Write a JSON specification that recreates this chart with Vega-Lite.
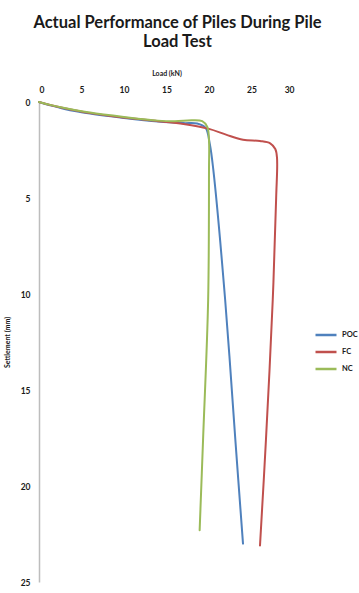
{
  "$schema": "https://vega.github.io/schema/vega-lite/v6.json",
  "autosize": {"type": "none"},
  "width": 255,
  "height": 480,
  "padding": {"left": 39, "top": 102, "right": 65, "bottom": 11},
  "background": "white",
  "title": {
    "text": ["Actual Performance of Piles During Pile", "Load Test"],
    "font": "Lato",
    "fontSize": 16.5,
    "fontWeight": "bold",
    "color": "#1a1a1a",
    "anchor": "middle",
    "dx": 11,
    "lineHeight": 19,
    "offset": 19
  },
  "config": {"view": {"stroke": null}},
  "data": {
    "values": [
      {"s": "POC", "i": 0, "load": 0, "set": 0},
      {"s": "POC", "i": 1, "load": 1.3, "set": 0.17},
      {"s": "POC", "i": 2, "load": 3, "set": 0.36},
      {"s": "POC", "i": 3, "load": 6, "set": 0.6},
      {"s": "POC", "i": 4, "load": 10, "set": 0.83},
      {"s": "POC", "i": 5, "load": 14, "set": 1.02},
      {"s": "POC", "i": 6, "load": 17, "set": 1.1},
      {"s": "POC", "i": 7, "load": 18.6, "set": 1.12},
      {"s": "POC", "i": 8, "load": 19.6, "set": 1.35},
      {"s": "POC", "i": 9, "load": 20.1, "set": 2.2},
      {"s": "POC", "i": 10, "load": 20.5, "set": 3.5},
      {"s": "POC", "i": 11, "load": 21.9, "set": 10.3},
      {"s": "POC", "i": 12, "load": 23.1, "set": 17.6},
      {"s": "POC", "i": 13, "load": 24.0, "set": 23.0},
      {"s": "FC", "i": 0, "load": 0, "set": 0},
      {"s": "FC", "i": 1, "load": 1.3, "set": 0.16},
      {"s": "FC", "i": 2, "load": 3, "set": 0.33},
      {"s": "FC", "i": 3, "load": 6, "set": 0.58},
      {"s": "FC", "i": 4, "load": 10, "set": 0.81},
      {"s": "FC", "i": 5, "load": 14, "set": 1.0},
      {"s": "FC", "i": 6, "load": 17, "set": 1.15},
      {"s": "FC", "i": 7, "load": 20, "set": 1.4},
      {"s": "FC", "i": 8, "load": 22, "set": 1.7},
      {"s": "FC", "i": 9, "load": 24, "set": 1.97},
      {"s": "FC", "i": 10, "load": 26, "set": 2.03},
      {"s": "FC", "i": 11, "load": 27.2, "set": 2.15},
      {"s": "FC", "i": 12, "load": 27.8, "set": 2.45},
      {"s": "FC", "i": 13, "load": 28.0, "set": 2.9},
      {"s": "FC", "i": 14, "load": 27.9, "set": 5},
      {"s": "FC", "i": 15, "load": 27.5, "set": 10.3},
      {"s": "FC", "i": 16, "load": 26.7, "set": 17.6},
      {"s": "FC", "i": 17, "load": 26.0, "set": 23.1},
      {"s": "NC", "i": 0, "load": 0, "set": 0},
      {"s": "NC", "i": 1, "load": 1.3, "set": 0.15},
      {"s": "NC", "i": 2, "load": 3, "set": 0.31},
      {"s": "NC", "i": 3, "load": 6, "set": 0.55},
      {"s": "NC", "i": 4, "load": 10, "set": 0.78},
      {"s": "NC", "i": 5, "load": 14, "set": 0.97},
      {"s": "NC", "i": 6, "load": 16, "set": 1.0},
      {"s": "NC", "i": 7, "load": 18, "set": 0.95},
      {"s": "NC", "i": 8, "load": 19.2, "set": 1.0},
      {"s": "NC", "i": 9, "load": 19.8, "set": 1.3},
      {"s": "NC", "i": 10, "load": 20.0, "set": 2.0},
      {"s": "NC", "i": 11, "load": 20.0, "set": 3.5},
      {"s": "NC", "i": 12, "load": 19.9, "set": 10.3},
      {"s": "NC", "i": 13, "load": 19.3, "set": 17.6},
      {"s": "NC", "i": 14, "load": 18.9, "set": 22.3}
    ]
  },
  "mark": {"type": "line", "interpolate": "catmull-rom", "strokeWidth": 2, "strokeCap": "round"},
  "encoding": {
    "x": {
      "field": "load",
      "type": "quantitative",
      "scale": {"domain": [0, 30], "nice": false},
      "axis": {
        "orient": "top",
        "title": "Load (kN)",
        "values": [0, 5, 10, 15, 20, 25, 30],
        "domain": false,
        "ticks": false,
        "grid": false,
        "labelFont": "Lato",
        "labelFontSize": 8.5,
        "labelFontWeight": "bold",
        "labelColor": "#1a1a1a",
        "labelPadding": 8,
        "titleFont": "Lato",
        "titleFontSize": 7,
        "titleFontWeight": "bold",
        "titleColor": "#1a1a1a",
        "titlePadding": 9
      }
    },
    "y": {
      "field": "set",
      "type": "quantitative",
      "scale": {"domain": [0, 25], "reverse": true, "nice": false},
      "axis": {
        "title": "Settlement (mm)",
        "values": [0, 5, 10, 15, 20, 25],
        "domain": true,
        "domainColor": "#bdbdbd",
        "domainWidth": 1.5,
        "ticks": false,
        "grid": false,
        "labelFont": "Lato",
        "labelFontSize": 8.5,
        "labelFontWeight": "bold",
        "labelColor": "#1a1a1a",
        "labelPadding": 9,
        "titleFont": "Lato",
        "titleFontSize": 7,
        "titleFontWeight": "bold",
        "titleColor": "#1a1a1a",
        "titlePadding": 10
      }
    },
    "color": {
      "field": "s",
      "type": "nominal",
      "scale": {"domain": ["POC", "FC", "NC"], "range": ["#4F81BD", "#C0504D", "#9BBB59"]},
      "legend": {
        "title": null,
        "orient": "none",
        "legendX": 275,
        "legendY": 221,
        "symbolType": "stroke",
        "symbolSize": 441,
        "symbolStrokeWidth": 2.5,
        "rowPadding": -7,
        "labelFont": "Lato",
        "labelFontSize": 7.5,
        "labelFontWeight": "bold",
        "labelColor": "#1a1a1a",
        "labelOffset": 4
      }
    },
    "order": {"field": "i", "type": "quantitative"}
  }
}
